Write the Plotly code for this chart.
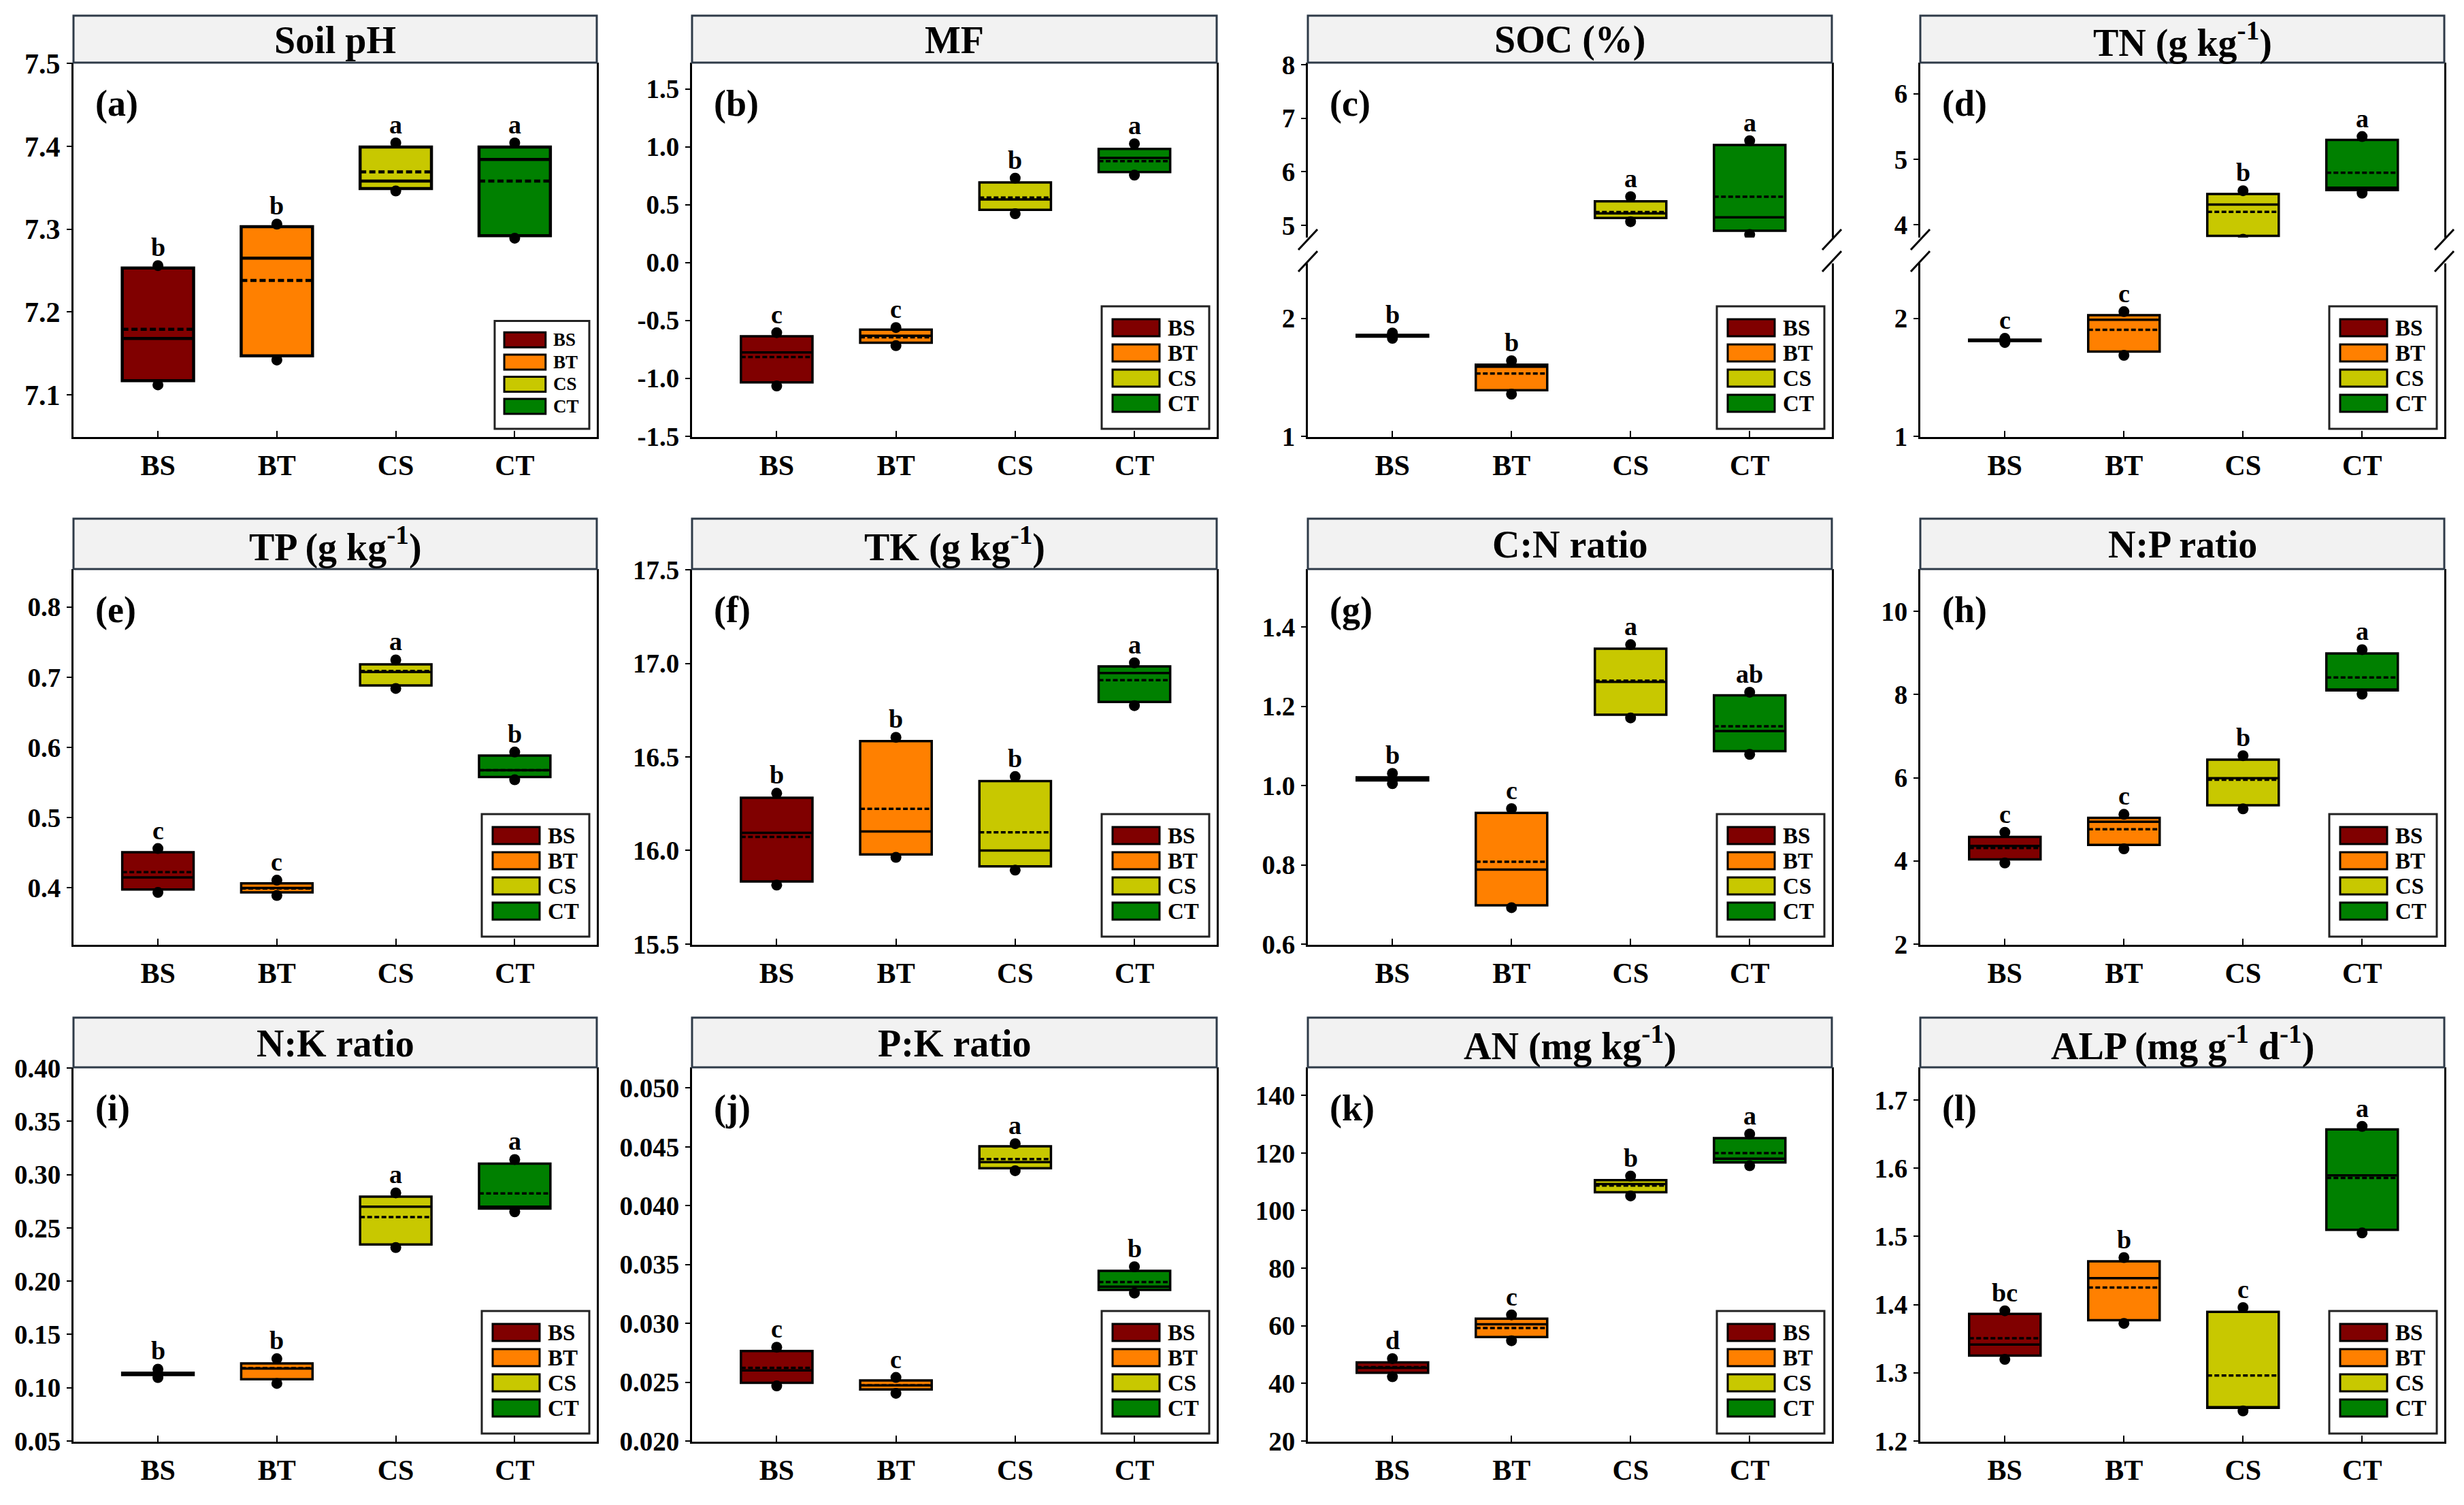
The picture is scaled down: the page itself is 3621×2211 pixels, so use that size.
import plotly.graph_objects as go

W, H = 3621, 2211
FONT = "Liberation Serif, Times New Roman, serif"

groups = ["BS", "BT", "CS", "CT"]
group_colors = ["#800000", "#FF8000", "#C8C800", "#008000"]

titles = ["Soil pH", "MF", "SOC (%)", "TN (g kg<sup>-1</sup>)",
          "TP (g kg<sup>-1</sup>)", "TK (g kg<sup>-1</sup>)", "C:N ratio", "N:P ratio",
          "N:K ratio", "P:K ratio", "AN (mg kg<sup>-1</sup>)", "ALP (mg g<sup>-1</sup> d<sup>-1</sup>)"]
panel_tags = ["(a)", "(b)", "(c)", "(d)", "(e)", "(f)", "(g)", "(h)", "(i)", "(j)", "(k)", "(l)"]

# ---------------- data (order: BS, BT, CS, CT) ----------------
ph_q1 = [7.117, 7.147, 7.349, 7.292]
ph_med = [7.168, 7.265, 7.358, 7.384]
ph_q3 = [7.253, 7.303, 7.399, 7.399]
ph_mean = [7.179, 7.238, 7.369, 7.358]
ph_lo = [7.112, 7.142, 7.346, 7.289]
ph_hi = [7.256, 7.306, 7.404, 7.404]
ph_sig = ["b", "b", "a", "a"]

mf_q1 = [-1.034, -0.692, 0.455, 0.782]
mf_med = [-0.776, -0.632, 0.545, 0.903]
mf_q3 = [-0.637, -0.579, 0.692, 0.982]
mf_mean = [-0.816, -0.645, 0.561, 0.876]
mf_lo = [-1.066, -0.718, 0.421, 0.755]
mf_hi = [-0.605, -0.561, 0.729, 1.026]
mf_sig = ["c", "c", "b", "a"]

soc_q1 = [1.845, 1.392, 5.14, 4.90]
soc_med = [1.852, 1.59, 5.225, 5.15]
soc_q3 = [1.860, 1.608, 5.45, 6.50]
soc_mean = [1.852, 1.533, 5.25, 5.535]
soc_lo = [1.83, 1.359, 5.07, 4.83]
soc_hi = [1.875, 1.641, 5.535, 6.58]
soc_sig = ["b", "b", "a", "a"]

tn_q1 = [1.807, 1.718, 3.83, 4.529]
tn_med = [1.813, 1.987, 4.308, 4.566]
tn_q3 = [1.819, 2.026, 4.469, 5.297]
tn_mean = [1.813, 1.903, 4.198, 4.795]
tn_lo = [1.795, 1.687, 3.78, 4.483]
tn_hi = [1.83, 2.056, 4.52, 5.347]
tn_sig = ["c", "c", "b", "a"]

tp_q1 = [0.3978, 0.3935, 0.6882, 0.5579]
tp_med = [0.415, 0.400, 0.7075, 0.5677]
tp_q3 = [0.4508, 0.4065, 0.7183, 0.5884]
tp_mean = [0.4224, 0.3991, 0.709, 0.5677]
tp_lo = [0.3935, 0.3892, 0.684, 0.554]
tp_hi = [0.456, 0.411, 0.7247, 0.5935]
tp_sig = ["c", "c", "a", "b"]

tk_q1 = [15.834, 15.979, 15.915, 16.794]
tk_med = [16.094, 16.102, 16.0, 16.948]
tk_q3 = [16.282, 16.585, 16.371, 16.984]
tk_mean = [16.073, 16.223, 16.097, 16.91]
tk_lo = [15.815, 15.963, 15.895, 16.774]
tk_hi = [16.306, 16.605, 16.395, 17.003]
tk_sig = ["b", "b", "b", "a"]

cn_q1 = [1.013, 0.698, 1.179, 1.087]
cn_med = [1.017, 0.788, 1.262, 1.138]
cn_q3 = [1.021, 0.931, 1.346, 1.228]
cn_mean = [1.017, 0.808, 1.265, 1.15]
cn_lo = [1.005, 0.692, 1.171, 1.079]
cn_hi = [1.031, 0.942, 1.356, 1.236]
cn_sig = ["b", "c", "a", "ab"]

np_q1 = [4.036, 4.383, 5.337, 8.099]
np_med = [4.361, 4.94, 5.988, 8.12]
np_q3 = [4.578, 5.034, 6.436, 8.988]
np_mean = [4.31, 4.759, 5.952, 8.41]
np_lo = [3.95, 4.289, 5.25, 8.01]
np_hi = [4.687, 5.12, 6.53, 9.08]
np_sig = ["c", "c", "b", "a"]

nk_q1 = [0.1120, 0.108, 0.2344, 0.2681]
nk_med = [0.113, 0.118, 0.2699, 0.2699]
nk_q3 = [0.1140, 0.1228, 0.2793, 0.3103]
nk_mean = [0.113, 0.1183, 0.2601, 0.2823]
nk_lo = [0.1095, 0.104, 0.2315, 0.2651]
nk_hi = [0.1174, 0.1272, 0.2829, 0.3142]
nk_sig = ["b", "b", "a", "a"]

pk_q1 = [0.02495, 0.02438, 0.04319, 0.03284]
pk_med = [0.0260, 0.02473, 0.0437, 0.03311]
pk_q3 = [0.02765, 0.02514, 0.04505, 0.03446]
pk_mean = [0.02622, 0.02473, 0.04397, 0.03351]
pk_lo = [0.02468, 0.02405, 0.04297, 0.03257]
pk_hi = [0.02797, 0.0254, 0.04527, 0.03481]
pk_sig = ["c", "c", "a", "b"]

an_q1 = [43.7, 56.1, 106.4, 116.7]
an_med = [45.4, 60.5, 109.2, 118.0]
an_q3 = [47.3, 62.5, 110.6, 125.2]
an_mean = [45.6, 59.2, 108.7, 120.0]
an_lo = [42.3, 54.8, 105.1, 115.6]
an_hi = [48.6, 63.8, 112.0, 126.6]
an_sig = ["d", "c", "b", "a"]

alp_q1 = [1.3252, 1.3772, 1.2487, 1.5098]
alp_med = [1.3415, 1.4389, 1.2487, 1.5896]
alp_q3 = [1.3865, 1.4635, 1.3893, 1.6569]
alp_mean = [1.3507, 1.425, 1.296, 1.5859]
alp_lo = [1.3197, 1.3725, 1.244, 1.5052]
alp_hi = [1.391, 1.469, 1.3957, 1.6615]
alp_sig = ["bc", "b", "c", "a"]

# ---------------- axis ranges / ticks ----------------
ph_range = [7.05, 7.5]
ph_ticks = [7.1, 7.2, 7.3, 7.4, 7.5]
ph_ticktext = ["7.1", "7.2", "7.3", "7.4", "7.5"]
mf_range = [-1.5, 1.72]
mf_ticks = [-1.5, -1.0, -0.5, 0.0, 0.5, 1.0, 1.5]
mf_ticktext = ["-1.5", "-1.0", "-0.5", "0.0", "0.5", "1.0", "1.5"]
soc_range_lo = [1, 2.46]
soc_ticks_lo = [1, 2]
soc_range_hi = [4.78, 8.03]
soc_ticks_hi = [5, 6, 7, 8]
tn_range_lo = [1, 2.46]
tn_ticks_lo = [1, 2]
tn_range_hi = [3.81, 6.47]
tn_ticks_hi = [4, 5, 6]
tp_range = [0.32, 0.853]
tp_ticks = [0.4, 0.5, 0.6, 0.7, 0.8]
tp_ticktext = ["0.4", "0.5", "0.6", "0.7", "0.8"]
tk_range = [15.5, 17.5]
tk_ticks = [15.5, 16.0, 16.5, 17.0, 17.5]
tk_ticktext = ["15.5", "16.0", "16.5", "17.0", "17.5"]
cn_range = [0.6, 1.545]
cn_ticks = [0.6, 0.8, 1.0, 1.2, 1.4]
cn_ticktext = ["0.6", "0.8", "1.0", "1.2", "1.4"]
np_range = [2, 11]
np_ticks = [2, 4, 6, 8, 10]
np_ticktext = ["2", "4", "6", "8", "10"]
nk_range = [0.05, 0.40]
nk_ticks = [0.05, 0.10, 0.15, 0.20, 0.25, 0.30, 0.35, 0.40]
nk_ticktext = ["0.05", "0.10", "0.15", "0.20", "0.25", "0.30", "0.35", "0.40"]
pk_range = [0.020, 0.0517]
pk_ticks = [0.020, 0.025, 0.030, 0.035, 0.040, 0.045, 0.050]
pk_ticktext = ["0.020", "0.025", "0.030", "0.035", "0.040", "0.045", "0.050"]
an_range = [20, 149.5]
an_ticks = [20, 40, 60, 80, 100, 120, 140]
an_ticktext = ["20", "40", "60", "80", "100", "120", "140"]
alp_range = [1.2, 1.747]
alp_ticks = [1.2, 1.3, 1.4, 1.5, 1.6, 1.7]
alp_ticktext = ["1.2", "1.3", "1.4", "1.5", "1.6", "1.7"]

panels = [
    dict(q1=ph_q1, med=ph_med, q3=ph_q3, mean=ph_mean, lo=ph_lo, hi=ph_hi, sig=ph_sig,
         range=ph_range, ticks=ph_ticks, ticktext=ph_ticktext),
    dict(q1=mf_q1, med=mf_med, q3=mf_q3, mean=mf_mean, lo=mf_lo, hi=mf_hi, sig=mf_sig,
         range=mf_range, ticks=mf_ticks, ticktext=mf_ticktext),
    dict(q1=soc_q1, med=soc_med, q3=soc_q3, mean=soc_mean, lo=soc_lo, hi=soc_hi, sig=soc_sig,
         range=soc_range_lo, ticks=soc_ticks_lo, ticktext=[str(t) for t in soc_ticks_lo],
         range_hi=soc_range_hi, ticks_hi=soc_ticks_hi, ticktext_hi=[str(t) for t in soc_ticks_hi]),
    dict(q1=tn_q1, med=tn_med, q3=tn_q3, mean=tn_mean, lo=tn_lo, hi=tn_hi, sig=tn_sig,
         range=tn_range_lo, ticks=tn_ticks_lo, ticktext=[str(t) for t in tn_ticks_lo],
         range_hi=tn_range_hi, ticks_hi=tn_ticks_hi, ticktext_hi=[str(t) for t in tn_ticks_hi]),
    dict(q1=tp_q1, med=tp_med, q3=tp_q3, mean=tp_mean, lo=tp_lo, hi=tp_hi, sig=tp_sig,
         range=tp_range, ticks=tp_ticks, ticktext=tp_ticktext),
    dict(q1=tk_q1, med=tk_med, q3=tk_q3, mean=tk_mean, lo=tk_lo, hi=tk_hi, sig=tk_sig,
         range=tk_range, ticks=tk_ticks, ticktext=tk_ticktext),
    dict(q1=cn_q1, med=cn_med, q3=cn_q3, mean=cn_mean, lo=cn_lo, hi=cn_hi, sig=cn_sig,
         range=cn_range, ticks=cn_ticks, ticktext=cn_ticktext),
    dict(q1=np_q1, med=np_med, q3=np_q3, mean=np_mean, lo=np_lo, hi=np_hi, sig=np_sig,
         range=np_range, ticks=np_ticks, ticktext=np_ticktext),
    dict(q1=nk_q1, med=nk_med, q3=nk_q3, mean=nk_mean, lo=nk_lo, hi=nk_hi, sig=nk_sig,
         range=nk_range, ticks=nk_ticks, ticktext=nk_ticktext),
    dict(q1=pk_q1, med=pk_med, q3=pk_q3, mean=pk_mean, lo=pk_lo, hi=pk_hi, sig=pk_sig,
         range=pk_range, ticks=pk_ticks, ticktext=pk_ticktext),
    dict(q1=an_q1, med=an_med, q3=an_q3, mean=an_mean, lo=an_lo, hi=an_hi, sig=an_sig,
         range=an_range, ticks=an_ticks, ticktext=an_ticktext),
    dict(q1=alp_q1, med=alp_med, q3=alp_q3, mean=alp_mean, lo=alp_lo, hi=alp_hi, sig=alp_sig,
         range=alp_range, ticks=alp_ticks, ticktext=alp_ticktext),
]

# ---------------- layout geometry (target screen pixels) ----------------
COLS = [(108, 877), (1017, 1788), (1922, 2692), (2822, 3592)]
ROWS = [(24, 93, 643), (763, 837, 1389), (1496, 1569, 2119)]
BREAK_HI_END = 350   # bottom of upper segment (row-1 pixel)
BREAK_LO_TOP = 388   # top of lower segment

# observed vertical mapping of the capture: screen_y = SCALE * fig_y + OFF
SCR_SCALE = 0.981
SCR_OFF = 22.0


def fx(px):
    return px / W


def fy(py):
    fig_y = (py - SCR_OFF) / SCR_SCALE
    return 1 - fig_y / H


def pad(rng):
    s = (rng[1] - rng[0]) * 0.002
    return [rng[0] - s, rng[1] + s]


fig = go.Figure()
layout_axes = {}
shapes = []
annots = []

xcfg = dict(type="category", categoryorder="array", categoryarray=groups,
            range=[-0.71, 3.69], showline=True, linecolor="black", linewidth=3,
            ticks="inside", ticklen=9, tickwidth=2, tickcolor="black",
            tickfont=dict(family=FONT, size=42, color="black", weight="bold"),
            ticklabelstandoff=3, showgrid=False, zeroline=False, mirror=False,
            fixedrange=True)


def ycfg(domain, rng, tickvals, ticktext, anchor, size):
    return dict(domain=domain, range=pad(rng), tickmode="array", tickvals=tickvals,
                ticktext=ticktext, showline=True, mirror=True, linecolor="black",
                linewidth=3, ticks="outside", ticklen=7, tickwidth=2, tickcolor="black",
                tickfont=dict(family=FONT, size=size, color="black", weight="bold"),
                ticklabelstandoff=1, showgrid=False, zeroline=False, anchor=anchor,
                fixedrange=True)


for i, p in enumerate(panels):
    r, c = divmod(i, 4)
    left, right = COLS[c]
    ttop, ftop, fbot = ROWS[r]
    n = i + 1
    xref = "x" if n == 1 else f"x{n}"
    yref = "y" if n == 1 else f"y{n}"
    xkey = "xaxis" if n == 1 else f"xaxis{n}"
    ykey = "yaxis" if n == 1 else f"yaxis{n}"
    broken = "range_hi" in p
    lw = 4.5 if i == 0 else 3.5
    tsize = 42 if i == 0 else 39

    layout_axes[xkey] = dict(xcfg, domain=[fx(left), fx(right)], anchor=yref)
    if broken:
        hn = 12 + (i - 1)  # 13, 14
        yref_hi = f"y{hn}"
        ykey_hi = f"yaxis{hn}"
        layout_axes[ykey] = ycfg([fy(fbot), fy(BREAK_LO_TOP)], p["range"], p["ticks"],
                                 p["ticktext"], xref, tsize)
        layout_axes[ykey_hi] = ycfg([fy(BREAK_HI_END), fy(ftop)], p["range_hi"],
                                    p["ticks_hi"], p["ticktext_hi"], xref, tsize)
        yrefs = [yref, yref, yref_hi, yref_hi]
        # break marks
        for xe in (left, right):
            for yc in (BREAK_HI_END + 3, BREAK_LO_TOP - 3):
                shapes.append(dict(type="line", xref="paper", yref="paper",
                                   x0=fx(xe - 14), y0=fy(yc + 15), x1=fx(xe + 14), y1=fy(yc - 15),
                                   line=dict(color="black", width=3), layer="above"))
    else:
        layout_axes[ykey] = ycfg([fy(fbot), fy(ftop)], p["range"], p["ticks"],
                                 p["ticktext"], xref, tsize)
        yrefs = [yref] * 4

    for k, g in enumerate(groups):
        fig.add_trace(go.Box(
            x=[g], q1=[p["q1"][k]], median=[p["med"][k]], q3=[p["q3"][k]],
            lowerfence=[p["lo"][k]], upperfence=[p["hi"][k]], mean=[p["mean"][k]],
            boxmean=True, boxpoints=False, width=0.6, whiskerwidth=0,
            fillcolor=group_colors[k], line=dict(color="black", width=lw),
            xaxis=xref, yaxis=yrefs[k], showlegend=False, hoverinfo="skip", name=g))
        fig.add_trace(go.Scatter(
            x=[g, g], y=[p["lo"][k], p["hi"][k]], mode="markers",
            marker=dict(color="black", size=16, line=dict(width=0)),
            xaxis=xref, yaxis=yrefs[k], showlegend=False, hoverinfo="skip"))
        annots.append(dict(x=g, y=p["hi"][k], xref=xref, yref=yrefs[k], text=p["sig"][k],
                           showarrow=False, yanchor="bottom", xanchor="center", yshift=4,
                           font=dict(family=FONT, size=38, color="black", weight="bold")))

    # title box
    shapes.append(dict(type="rect", xref="paper", yref="paper",
                       x0=fx(left), x1=fx(right), y0=fy(ftop), y1=fy(ttop),
                       fillcolor="#F2F2F2", line=dict(color="#2E3A48", width=3), layer="above"))
    annots.append(dict(x=fx((left + right) / 2), y=fy((ttop + ftop) / 2 + 1), xref="paper",
                       yref="paper", text=titles[i], showarrow=False, xanchor="center",
                       yanchor="middle",
                       font=dict(family=FONT, size=56, color="black", weight="bold")))
    # panel tag
    annots.append(dict(x=fx(left + 30), y=fy(ftop + 60), xref="paper", yref="paper",
                       text=panel_tags[i], showarrow=False, xanchor="left", yanchor="middle",
                       font=dict(family=FONT, size=54, color="black", weight="bold")))

    # legend box
    s = 0.88 if i == 0 else 1.0
    lfont = 27 if i == 0 else 33
    lx1 = right - 11
    lx0 = lx1 - 158 * s
    ly1 = fbot - 12
    ly0 = ly1 - 180 * s
    shapes.append(dict(type="rect", xref="paper", yref="paper", x0=fx(lx0), x1=fx(lx1),
                       y0=fy(ly1), y1=fy(ly0), fillcolor="white",
                       line=dict(color="#222222", width=3), layer="above"))
    for k, g in enumerate(groups):
        sy0 = ly0 + (19 + 37 * k) * s
        sy1 = sy0 + 25 * s
        shapes.append(dict(type="rect", xref="paper", yref="paper",
                           x0=fx(lx0 + 16 * s), x1=fx(lx0 + 85 * s), y0=fy(sy1), y1=fy(sy0),
                           fillcolor=group_colors[k], line=dict(color="black", width=3),
                           layer="above"))
        annots.append(dict(x=fx(lx0 + 95 * s), y=fy((sy0 + sy1) / 2), xref="paper",
                           yref="paper", text=g, showarrow=False, xanchor="left",
                           yanchor="middle",
                           font=dict(family=FONT, size=lfont, color="black", weight="bold")))

fig.update_layout(
    width=W, height=H, margin=dict(l=0, r=0, t=0, b=0),
    paper_bgcolor="white", plot_bgcolor="white",
    boxmode="overlay", showlegend=False,
    shapes=shapes, annotations=annots,
    font=dict(family=FONT, color="black"),
    **layout_axes,
)

fig.write_html("out.html")
